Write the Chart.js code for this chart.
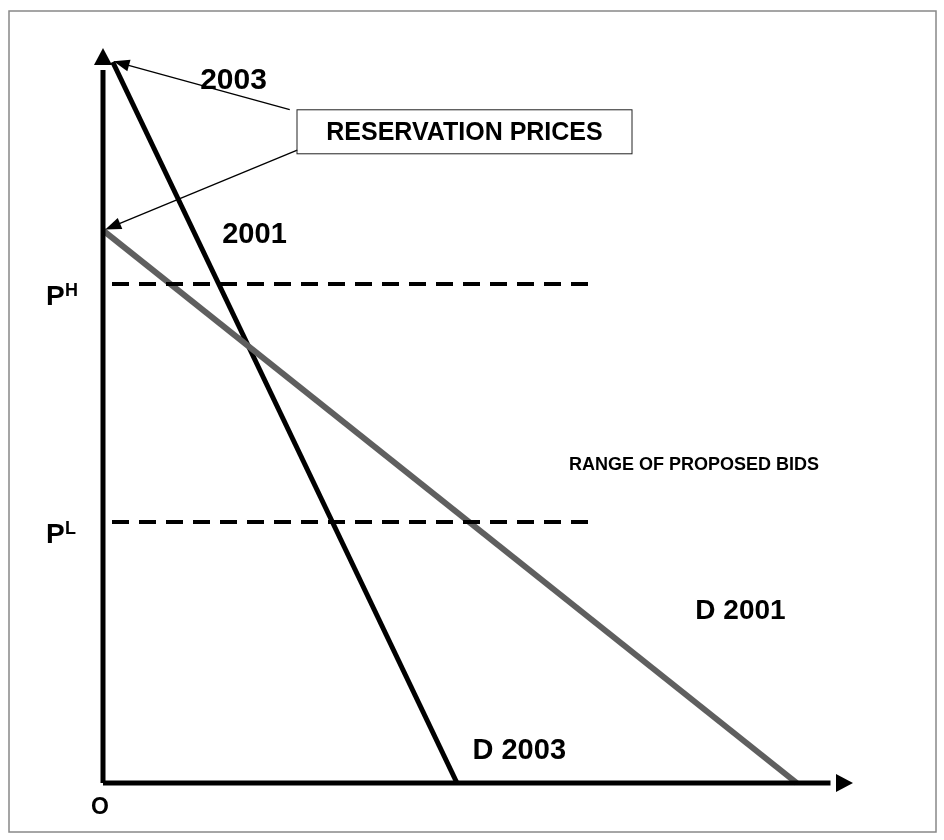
<!DOCTYPE html>
<html>
<head>
<meta charset="utf-8">
<script src="https://cdn.jsdelivr.net/npm/chart.js@4.4.0/dist/chart.umd.min.js"></script>
<style>
  body { margin: 0; background: #fff; }
  #wrap { width: 944px; height: 840px; }
</style>
</head>
<body>
<div id="wrap"><canvas id="myChart" width="944" height="840"></canvas></div>
<script>
// quantity (x) and price (y), both on a 0-100 scale
const demand2003 = [{ x: 1.3, y: 98.1 }, { x: 47.2, y: 0 }];
const demand2001 = [{ x: 0, y: 75.2 }, { x: 92.5, y: 0 }];
const priceHigh = 67.9;
const priceLow = 35.5;
const bidRange = [1.2, 65.6];

// text labels: [text, x, y, size]
const labels = [
  ['2003', 17.4, 95.6, 30],
  ['2001', 20.2, 74.5, 29],
  ['RANGE OF PROPOSED BIDS', 78.8, 43.2, 18],
  ['D 2001', 85.0, 23.4, 28],
  ['D 2003', 55.5, 4.4, 29],
];
const boxLabel = ['RESERVATION PRICES', 48.2, 88.6];
// pointer arrows from the box to the reservation prices
const pointers = [
  [{ x: 24.9, y: 91.6 }, { x: 1.4, y: 98.2 }],
  [{ x: 25.9, y: 86.1 }, { x: 0.3, y: 75.3 }],
];

const FONT = '"Liberation Sans", Arial, sans-serif';

function arrowHead(ctx, tx, ty, angle, len, half) {
  ctx.save();
  ctx.translate(tx, ty);
  ctx.rotate(angle);
  ctx.beginPath();
  ctx.moveTo(0, 0);
  ctx.lineTo(-len, -half);
  ctx.lineTo(-len, half);
  ctx.closePath();
  ctx.fill();
  ctx.restore();
}

const drawing = {
  id: 'drawing',
  beforeDraw: (chart) => {
    const ctx = chart.ctx;
    ctx.save();
    ctx.fillStyle = '#fff';
    ctx.fillRect(0, 0, chart.width, chart.height);
    ctx.strokeStyle = '#888';
    ctx.lineWidth = 1.5;
    ctx.strokeRect(9, 11, 927, 821);
    ctx.restore();
  },
  afterDatasetsDraw: (chart) => {
    const ctx = chart.ctx;
    const xs = chart.scales.x;
    const ys = chart.scales.y;
    const px = (v) => xs.getPixelForValue(v);
    const py = (v) => ys.getPixelForValue(v);
    ctx.save();
    ctx.fillStyle = '#000';
    ctx.strokeStyle = '#000';

    // axis arrowheads
    arrowHead(ctx, px(100), py(0), 0, 17, 9);
    arrowHead(ctx, px(0), py(100), -Math.PI / 2, 17, 9);

    // pointer arrows
    ctx.lineWidth = 1.3;
    pointers.forEach(([a, b]) => {
      const x1 = px(a.x), y1 = py(a.y), x2 = px(b.x), y2 = py(b.y);
      const ang = Math.atan2(y2 - y1, x2 - x1);
      ctx.beginPath();
      ctx.moveTo(x1, y1);
      ctx.lineTo(x2 - Math.cos(ang) * 10, y2 - Math.sin(ang) * 10);
      ctx.stroke();
      arrowHead(ctx, x2, y2, ang, 16, 6);
    });

    // text
    ctx.textAlign = 'center';
    ctx.textBaseline = 'middle';
    labels.forEach(([t, x, y, size]) => {
      ctx.font = 'bold ' + size + 'px ' + FONT;
      ctx.fillText(t, px(x), py(y));
    });

    // boxed label
    const bx = px(boxLabel[1]), by = py(boxLabel[2]);
    ctx.lineWidth = 1;
    ctx.strokeStyle = '#222';
    ctx.strokeRect(bx - 167.5, by - 22, 335, 44);
    ctx.font = 'bold 25px ' + FONT;
    ctx.fillText(boxLabel[0], bx, by + 1);

    // price labels
    ctx.textAlign = 'left';
    ctx.textBaseline = 'alphabetic';
    [['H', priceHigh], ['L', priceLow]].forEach(([s, v]) => {
      const base = py(v) + 21;
      ctx.font = 'bold 28px ' + FONT;
      ctx.fillText('P', 46, base);
      ctx.font = 'bold 18px ' + FONT;
      ctx.fillText(s, 65, base - 9);
    });
    ctx.font = 'bold 23px ' + FONT;
    ctx.textAlign = 'center';
    ctx.fillText('O', px(0) - 3, py(0) + 31);
    ctx.restore();
  },
};

const seg = (data, color, width, dash) => ({
  data: data,
  showLine: true,
  borderColor: color,
  borderWidth: width,
  borderDash: dash || [],
  pointRadius: 0,
  borderCapStyle: 'butt',
  clip: false,
});

new Chart(document.getElementById('myChart').getContext('2d'), {
  type: 'scatter',
  data: {
    datasets: [
      seg([{ x: 0, y: 0 }, { x: 97, y: 0 }], '#000', 5),
      seg([{ x: 0, y: 0 }, { x: 0, y: 97 }], '#000', 5),
      seg([{ x: bidRange[0], y: priceHigh }, { x: bidRange[1], y: priceHigh }], '#000', 4, [17, 10]),
      seg([{ x: bidRange[0], y: priceLow }, { x: bidRange[1], y: priceLow }], '#000', 4, [17, 10]),
      seg(demand2001, '#5f5f5f', 6),
      seg(demand2003, '#000', 5),
    ],
  },
  plugins: [drawing],
  options: {
    responsive: false,
    animation: false,
    layout: { padding: { left: 103, right: 91, top: 48, bottom: 57 } },
    scales: {
      x: { type: 'linear', min: 0, max: 100, display: false },
      y: { type: 'linear', min: 0, max: 100, display: false },
    },
    plugins: { legend: { display: false }, tooltip: { enabled: false } },
  },
});
</script>
</body>
</html>
